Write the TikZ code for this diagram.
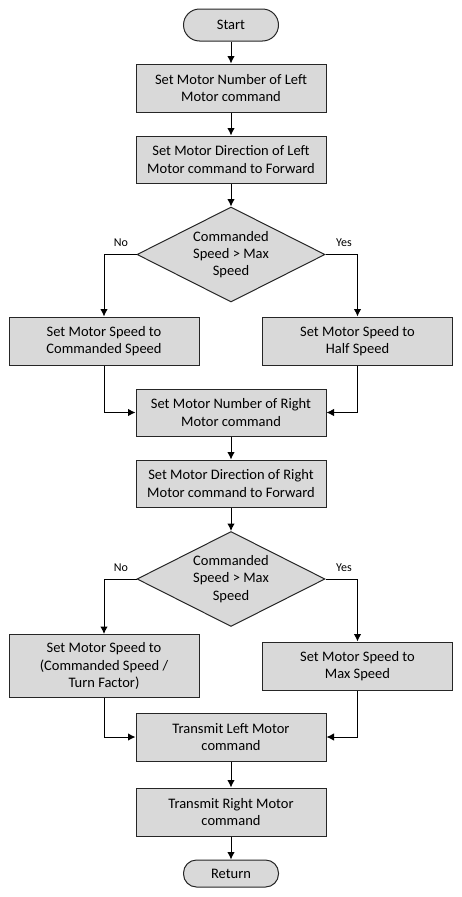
\documentclass[tikz,border=0pt]{standalone}
\usepackage{fontspec}
\setmainfont{Carlito}
\usepackage{tikz}
\usetikzlibrary{shapes.geometric,arrows.meta}
\definecolor{boxgray}{HTML}{D9D9D9}
\definecolor{edgegray}{HTML}{262626}

\begin{document}
\begin{tikzpicture}[x=1pt, y=-1pt,
  every node/.style={font=\fontsize{14.5}{17.3}\selectfont},
  proc/.style={draw=edgegray, line width=1pt, fill=boxgray, minimum width=190pt, minimum height=48pt, inner sep=0pt, align=center},
  term/.style={draw=edgegray, line width=1pt, fill=boxgray, minimum width=95pt, rounded corners=13pt, inner sep=0pt},
  decide/.style={draw=edgegray, line width=1pt, fill=boxgray, diamond, aspect=2, minimum width=188pt, minimum height=95pt, inner sep=0pt, align=center},
  tag/.style={font=\fontsize{12}{14}\selectfont},
  link/.style={draw=black, line width=1pt, -{Latex[length=7.5pt,width=7.5pt]}}]
\useasboundingbox (0,0) rectangle (462,897);
\node[term, minimum height=32pt, rounded corners=16pt] (start) at (231,25) {Start};
\node[proc] (lnum) at (231,88) {Set Motor Number of Left\\Motor command};
\node[proc, minimum height=47pt] (ldir) at (231,159.5) {Set Motor Direction of Left\\Motor command to Forward};
\node[decide] (cmpa) at (231,254.5) {Commanded\\Speed > Max\\Speed};
\node[proc] (lcmd) at (104,341) {Set Motor Speed to\\Commanded Speed};
\node[proc] (lhalf) at (357.5,341) {Set Motor Speed to\\Half Speed};
\node[proc, minimum height=47pt] (rnum) at (231,412.5) {Set Motor Number of Right\\Motor command};
\node[proc, minimum height=47pt] (rdir) at (231,483.5) {Set Motor Direction of Right\\Motor command to Forward};
\node[decide] (cmpb) at (231,579) {Commanded\\Speed > Max\\Speed};
\node[proc, minimum height=63pt] (rturn) at (104,666) {Set Motor Speed to\\(Commanded Speed /\\Turn Factor)};
\node[proc] (rmax) at (357.5,666) {Set Motor Speed to\\Max Speed};
\node[proc] (txl) at (231,737) {Transmit Left Motor\\command};
\node[proc] (txr) at (231,812) {Transmit Right Motor\\command};
\node[term, minimum height=27pt] (ret) at (231,873.5) {Return};
\node[tag] (noa) at (121,243) {No};
\node[tag] (yesa) at (344,243) {Yes};
\node[tag] (nob) at (121,568) {No};
\node[tag] (yesb) at (344,568) {Yes};
% main column
\draw[link] (start) -- (lnum);
\draw[link] (lnum) -- (ldir);
\draw[link] (ldir) -- (cmpa);
\draw[link] (cmpa.west) -| (lcmd.north);
\draw[link] (cmpa.east) -| (lhalf.north);
\draw[link] (lcmd.south) |- (rnum.west);
\draw[link] (lhalf.south) |- (rnum.east);
\draw[link] (rnum) -- (rdir);
\draw[link] (rdir) -- (cmpb);
\draw[link] (cmpb.west) -| (rturn.north);
\draw[link] (cmpb.east) -| (rmax.north);
\draw[link] (rturn.south) |- (txl.west);
\draw[link] (rmax.south) |- (txl.east);
\draw[link] (txl) -- (txr);
\draw[link] (txr) -- (ret);
\end{tikzpicture}
\end{document}
